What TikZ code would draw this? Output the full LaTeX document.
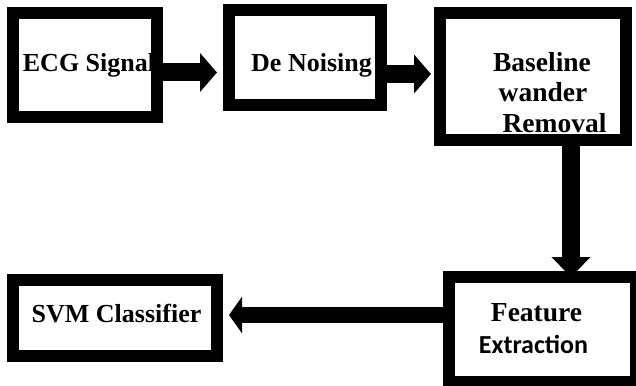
\documentclass[tikz,border=0pt]{standalone}
\usepackage{fontspec}
\setmainfont{Liberation Serif}
\newfontfamily\carlito{Carlito}
\usetikzlibrary{arrows.meta}
\begin{document}
\begin{tikzpicture}[x=1pt,y=-1pt,
  blk/.style={draw=black, line width=12pt, fill=white, inner sep=0pt},
  txt/.style={font=\fontsize{26}{30}\selectfont\bfseries, anchor=base, inner sep=0pt},
  arr/.style={line width=18pt, -{Triangle[width=38pt,length=17pt]}},
  arrthin/.style={line width=16pt, -{Triangle[width=36pt,length=13pt]}}]
\useasboundingbox (0,0) rectangle (636,385);
% boxes
\node[blk, minimum width=144pt, minimum height=104pt] (ecg) at (85,65) {};
\node[blk, minimum width=152pt, minimum height=95pt] (den) at (305,57.5) {};
\node[blk, minimum width=186pt, minimum height=127pt] (base) at (533,76.5) {};
\node[blk, minimum width=187pt, minimum height=105pt] (feat) at (542.5,329.5) {};
\node[blk, minimum width=204pt, minimum height=76pt] (svm) at (115,318) {};
% connectors
\draw[arr, shorten >=6pt] ([yshift=-7.5pt]ecg.east) -- ([yshift=-15pt]den.west);
\draw[arr, shorten >=3pt] ([yshift=-16.5pt]den.east) -- ([yshift=2.5pt]base.west);
\draw[arr, -{Triangle[width=38pt,length=20pt]}, shorten >=-6pt] ([xshift=38pt]base.south) -- ([xshift=28.5pt]feat.north);
\draw[arrthin, shorten >=6pt] ([yshift=14.5pt]feat.west) -- ([yshift=3pt]svm.east);
% texts
\node[txt] (t1) at (89,72) {ECG Signal};
\node[txt] (t2) at (311.5,72) {De Noising};
\node[txt, font=\fontsize{27.5}{30}\selectfont\bfseries] (t3a) at (542,72) {Baseline};
\node[txt, font=\fontsize{27.5}{30}\selectfont\bfseries] (t3b) at (543,102) {wander};
\node[txt, font=\fontsize{27.5}{30}\selectfont\bfseries] (t3c) at (554.5,132) {Removal};
\node[txt] (t4) at (116.5,322) {SVM Classifier};
\node[txt, font=\fontsize{27.5}{30}\selectfont\bfseries] (t5a) at (536.5,321) {Feature};
\node[txt, font=\fontsize{26}{30}\selectfont\carlito\bfseries] (t5b) at (533.5,353) {Extraction};
\end{tikzpicture}
\end{document}
